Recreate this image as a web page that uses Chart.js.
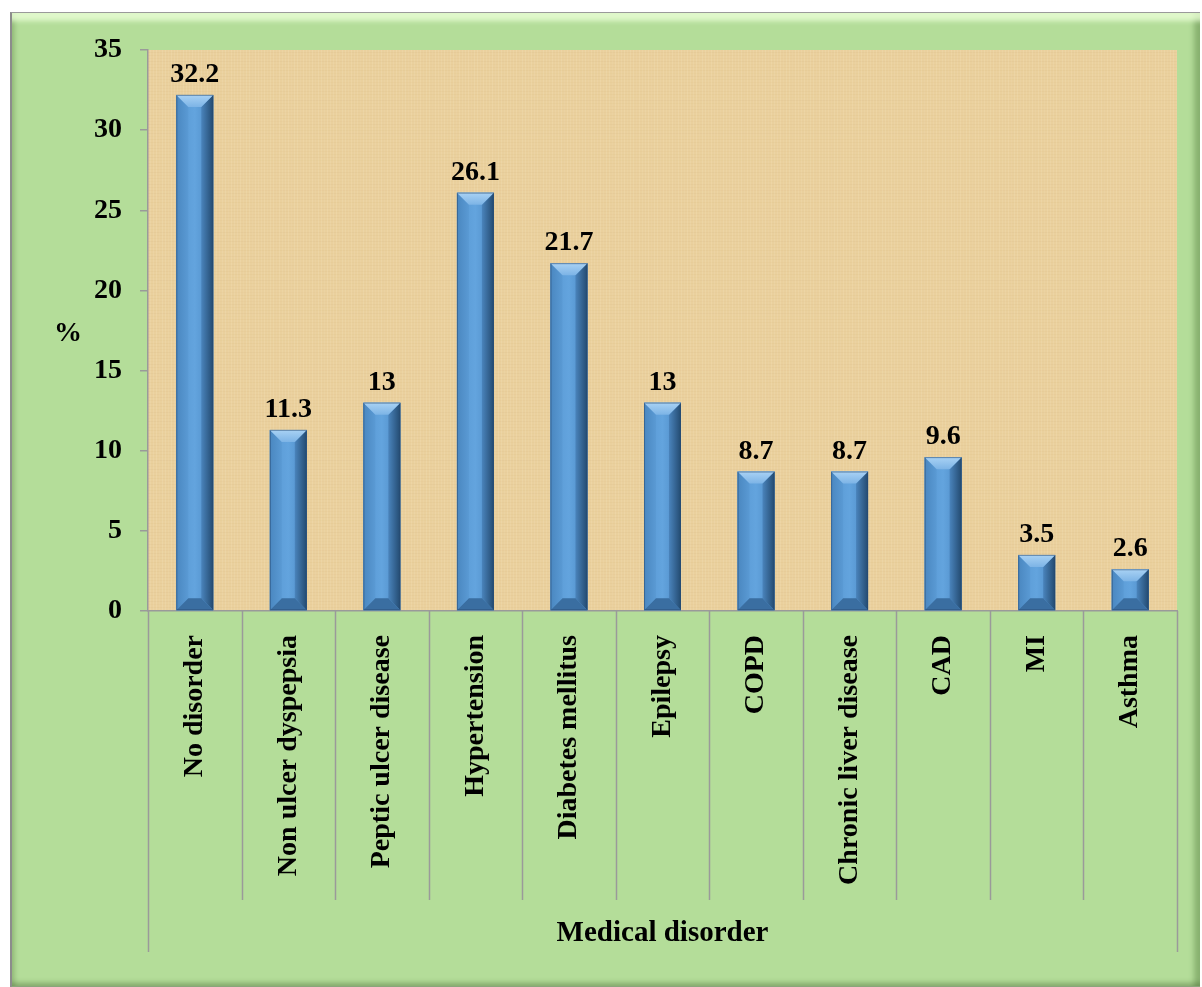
<!DOCTYPE html>
<html>
<head>
<meta charset="utf-8">
<script src="https://cdn.jsdelivr.net/npm/chart.js@4"></script>
<style>
  html, body { margin: 0; padding: 0; background: #fff; }
  #frame {
    position: absolute; left: 10px; top: 12px; width: 1188px; height: 973px;
    background: #B4DD99;
    border-top: 1px solid #9a9a9a; border-left: 2px solid #8c8c8c; border-bottom: 2px solid #8aa57c;
    box-shadow: inset 0 13px 5px -5px rgba(235,255,215,0.8),
                inset -9px 0 5px -3px rgba(60,100,40,0.35),
                inset 6px 0 4px -3px rgba(60,90,40,0.25),
                inset 0 -7px 4px -3px rgba(60,90,40,0.3);
  }
  #wrap { position: absolute; left: 0; top: 0; width: 1202px; height: 987px; }
</style>
</head>
<body>
<div id="frame"></div>
<div id="wrap"><canvas id="chart" width="1202" height="987"></canvas></div>
<script>
const categories = ['No disorder', 'Non ulcer dyspepsia', 'Peptic ulcer disease', 'Hypertension',
  'Diabetes mellitus', 'Epilepsy', 'COPD', 'Chronic liver disease', 'CAD', 'MI', 'Asthma'];
const percentValues = [32.2, 11.3, 13, 26.1, 21.7, 13, 8.7, 8.7, 9.6, 3.5, 2.6];
const valueLabels = ['32.2', '11.3', '13', '26.1', '21.7', '13', '8.7', '8.7', '9.6', '3.5', '2.6'];
const yAxisLabel = '%';
const xAxisLabel = 'Medical disorder';

const FONT = "'Times New Roman', 'Liberation Serif', serif";

// papyrus-like background for the plot area
function paperPattern(ctx) {
    const c = document.createElement('canvas');
    c.width = 180; c.height = 180;
    const g = c.getContext('2d');
    g.fillStyle = '#EAD09D';
    g.fillRect(0, 0, 180, 180);
    for (let i = 0; i < 180; i += 3) {
        const a = 0.07 + 0.07 * Math.abs(Math.sin(i * 1.7));
        g.fillStyle = `rgba(255,246,222,${a})`;
        g.fillRect(i, 0, 1, 180);
        g.fillStyle = `rgba(200,160,95,${a * 0.6})`;
        g.fillRect(0, i + 1, 180, 1);
    }
    return ctx.createPattern(c, 'repeat');
}

const plotBackground = {
    id: 'plotBackground',
    beforeDraw(chart) {
        const { ctx, chartArea: a } = chart;
        ctx.save();
        ctx.fillStyle = paperPattern(ctx);
        ctx.fillRect(a.left, a.top, a.right - a.left, a.bottom - a.top);
        ctx.restore();
    }
};

// bevelled bar faces
const bevelBars = {
    id: 'bevelBars',
    afterDatasetsDraw(chart) {
        const ctx = chart.ctx;
        chart.getDatasetMeta(0).data.forEach(bar => {
            const l = bar.x - bar.width / 2, r = bar.x + bar.width / 2;
            const t = bar.y, B = bar.base;
            const b = Math.min(12, (B - t) / 2);
            const poly = (pts, fill) => {
                ctx.beginPath();
                ctx.moveTo(pts[0][0], pts[0][1]);
                pts.slice(1).forEach(p => ctx.lineTo(p[0], p[1]));
                ctx.closePath();
                ctx.fillStyle = fill;
                ctx.fill();
            };
            ctx.save();
            const face = ctx.createLinearGradient(l, 0, r, 0);
            face.addColorStop(0, '#5797D2');
            face.addColorStop(0.5, '#63A4DE');
            face.addColorStop(1, '#4B88C2');
            ctx.fillStyle = face;
            ctx.fillRect(l, t, r - l, B - t);
            const leftG = ctx.createLinearGradient(l, 0, l + b, 0);
            leftG.addColorStop(0, '#4A87C0');
            leftG.addColorStop(1, '#5A9AD4');
            poly([[l, t], [l + b, t + b], [l + b, B - b], [l, B]], leftG);
            const rightG = ctx.createLinearGradient(r - b, 0, r, 0);
            rightG.addColorStop(0, '#4A84BC');
            rightG.addColorStop(1, '#234A70');
            poly([[r, t], [r - b, t + b], [r - b, B - b], [r, B]], rightG);
            const topG = ctx.createLinearGradient(0, t, 0, t + b);
            topG.addColorStop(0, '#A9D2F4');
            topG.addColorStop(1, '#7DB4E6');
            poly([[l, t], [r, t], [r - b, t + b], [l + b, t + b]], topG);
            poly([[l, B], [r, B], [r - b, B - b], [l + b, B - b]], '#3A6EA1');
            ctx.strokeStyle = 'rgba(40,75,115,0.55)';
            ctx.lineWidth = 1;
            ctx.strokeRect(l + 0.5, t + 0.5, r - l - 1, B - t - 1);
            ctx.restore();
        });
    }
};

const valueLabelsPlugin = {
    id: 'valueLabels',
    afterDatasetsDraw(chart) {
        const ctx = chart.ctx;
        ctx.save();
        ctx.font = `bold 28px ${FONT}`;
        ctx.fillStyle = '#000';
        ctx.textAlign = 'center';
        ctx.textBaseline = 'alphabetic';
        chart.getDatasetMeta(0).data.forEach((bar, i) => {
            ctx.fillText(valueLabels[i], bar.x, bar.y - 13);
        });
        ctx.restore();
    }
};

// category dividers under the axis, axis titles
const axisDecor = {
    id: 'axisDecor',
    afterDraw(chart) {
        const { ctx, chartArea: a, scales: { x } } = chart;
        const step = (x.getPixelForValue(1) - x.getPixelForValue(0));
        ctx.save();
        ctx.strokeStyle = '#9a9a9a';
        ctx.lineWidth = 1.5;
        for (let i = 0; i <= categories.length; i++) {
            const px = Math.round(x.getPixelForValue(i) - step / 2) + 0.5;
            const outer = i === 0 || i === categories.length;
            ctx.beginPath();
            ctx.moveTo(px, a.bottom);
            ctx.lineTo(px, a.bottom + (outer ? 341 : 289));
            ctx.stroke();
        }
        ctx.fillStyle = '#000';
        ctx.font = `bold 29px ${FONT}`;
        ctx.textAlign = 'center';
        ctx.textBaseline = 'middle';
        ctx.fillText(xAxisLabel, (a.left + a.right) / 2, a.bottom + 323);
        ctx.font = `bold 28px ${FONT}`;
        ctx.fillText(yAxisLabel, 68, (a.top + a.bottom) / 2 + 3);
        ctx.restore();
    }
};

const ctx = document.getElementById('chart').getContext('2d');
const chart = new Chart(ctx, {
    type: 'bar',
    data: {
        labels: categories,
        datasets: [{
            data: percentValues,
            backgroundColor: '#5B9BD5',
            categoryPercentage: 1,
            barPercentage: 0.395
        }]
    },
    options: {
        responsive: false,
        animation: false,
        devicePixelRatio: 1,
        layout: { padding: { left: 0, top: 50, right: 25, bottom: 0 } },
        plugins: {
            legend: { display: false },
            tooltip: { enabled: false }
        },
        scales: {
            x: {
                afterFit: s => { s.height = 376; },
                grid: { display: false, drawTicks: false },
                border: { display: true, color: '#9a9a9a', width: 1.5 },
                ticks: {
                    autoSkip: false,
                    maxRotation: 90,
                    minRotation: 90,
                    padding: 24,
                    color: '#000',
                    font: { family: FONT, size: 28, weight: 'bold' }
                }
            },
            y: {
                min: 0,
                max: 35,
                afterFit: s => { s.width = 148; },
                grid: { drawOnChartArea: false, tickLength: 8, color: '#9a9a9a', lineWidth: 1.5 },
                border: { display: true, color: '#9a9a9a', width: 1.5 },
                ticks: {
                    stepSize: 5,
                    padding: 18,
                    color: '#000',
                    font: { family: FONT, size: 28, weight: 'bold' }
                }
            }
        }
    },
    plugins: [plotBackground, bevelBars, valueLabelsPlugin, axisDecor]
});
</script>
</body>
</html>
